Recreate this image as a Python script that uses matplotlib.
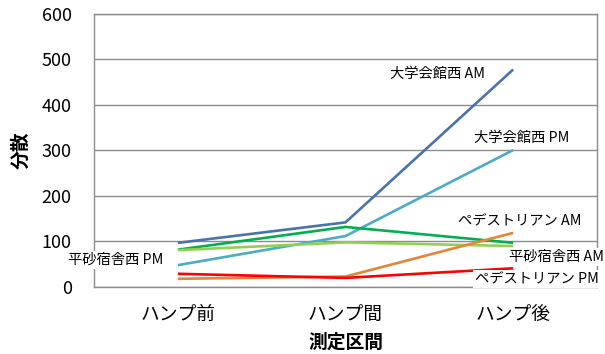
import matplotlib
matplotlib.use("Agg")
import matplotlib.pyplot as plt

plt.rcParams['font.family'] = ['Noto Sans CJK JP', 'DejaVu Sans']

categories = ["ハンプ前", "ハンプ間", "ハンプ後"]

# variance per measurement section
daigaku_am = [97, 142, 478]
daigaku_pm = [48, 112, 301]
hirasuna_am = [82, 132, 97]
hirasuna_pm = [81, 98, 90]
pede_am = [18, 23, 119]
pede_pm = [29, 20, 41]

series = [
    ("大学会館西 AM", daigaku_am, "#4A72AC"),
    ("大学会館西 PM", daigaku_pm, "#4BACC6"),
    ("平砂宿舎西 AM", hirasuna_am, "#00B050"),
    ("平砂宿舎西 PM", hirasuna_pm, "#92D050"),
    ("ペデストリアン AM", pede_am, "#E4853A"),
    ("ペデストリアン PM", pede_pm, "#FF0000"),
]

# label anchor (x in category units, y in data units)
label_pos = {
    "大学会館西 AM": (2.05, 468),
    "大学会館西 PM": (2.55, 327),
    "平砂宿舎西 AM": (2.76, 66),
    "平砂宿舎西 PM": (0.13, 59),
    "ペデストリアン AM": (2.54, 145),
    "ペデストリアン PM": (2.64, 17),
}

fig = plt.figure(figsize=(6.05, 3.54), dpi=100)
ax = fig.add_axes([0.1554, 0.1893, 0.8314, 0.7712])

xs = [0.5, 1.5, 2.5]
for name, vals, col in series:
    ax.plot(xs, vals, color=col, lw=1.9, solid_capstyle='butt', zorder=3)

for name, vals, col in series:
    x, y = label_pos[name]
    ax.text(x, y, name, ha='center', va='center', fontsize=10.3, zorder=5,
            clip_on=False,
            bbox=dict(boxstyle='square,pad=0.15', fc='white', ec='none'))

ax.set_xlim(0, 3)
ax.set_ylim(0, 600)
ax.set_yticks(range(0, 601, 100))
ax.set_xticks(xs)
ax.set_xticklabels(categories, fontsize=13.5)
ax.tick_params(axis='y', labelsize=13, length=0, pad=16)
ax.tick_params(axis='x', length=0, pad=12)
ax.yaxis.grid(True, color='#8C8C8C', lw=1)
ax.set_axisbelow(True)
for s in ax.spines.values():
    s.set_color('#8C8C8C')
    s.set_linewidth(1)

ax.set_xlabel("測定区間", fontsize=13.5, fontweight='bold', labelpad=6)
ax.set_ylabel("分散", fontsize=13.5, fontweight='bold', labelpad=8)

fig.savefig("out.png", dpi=100)
